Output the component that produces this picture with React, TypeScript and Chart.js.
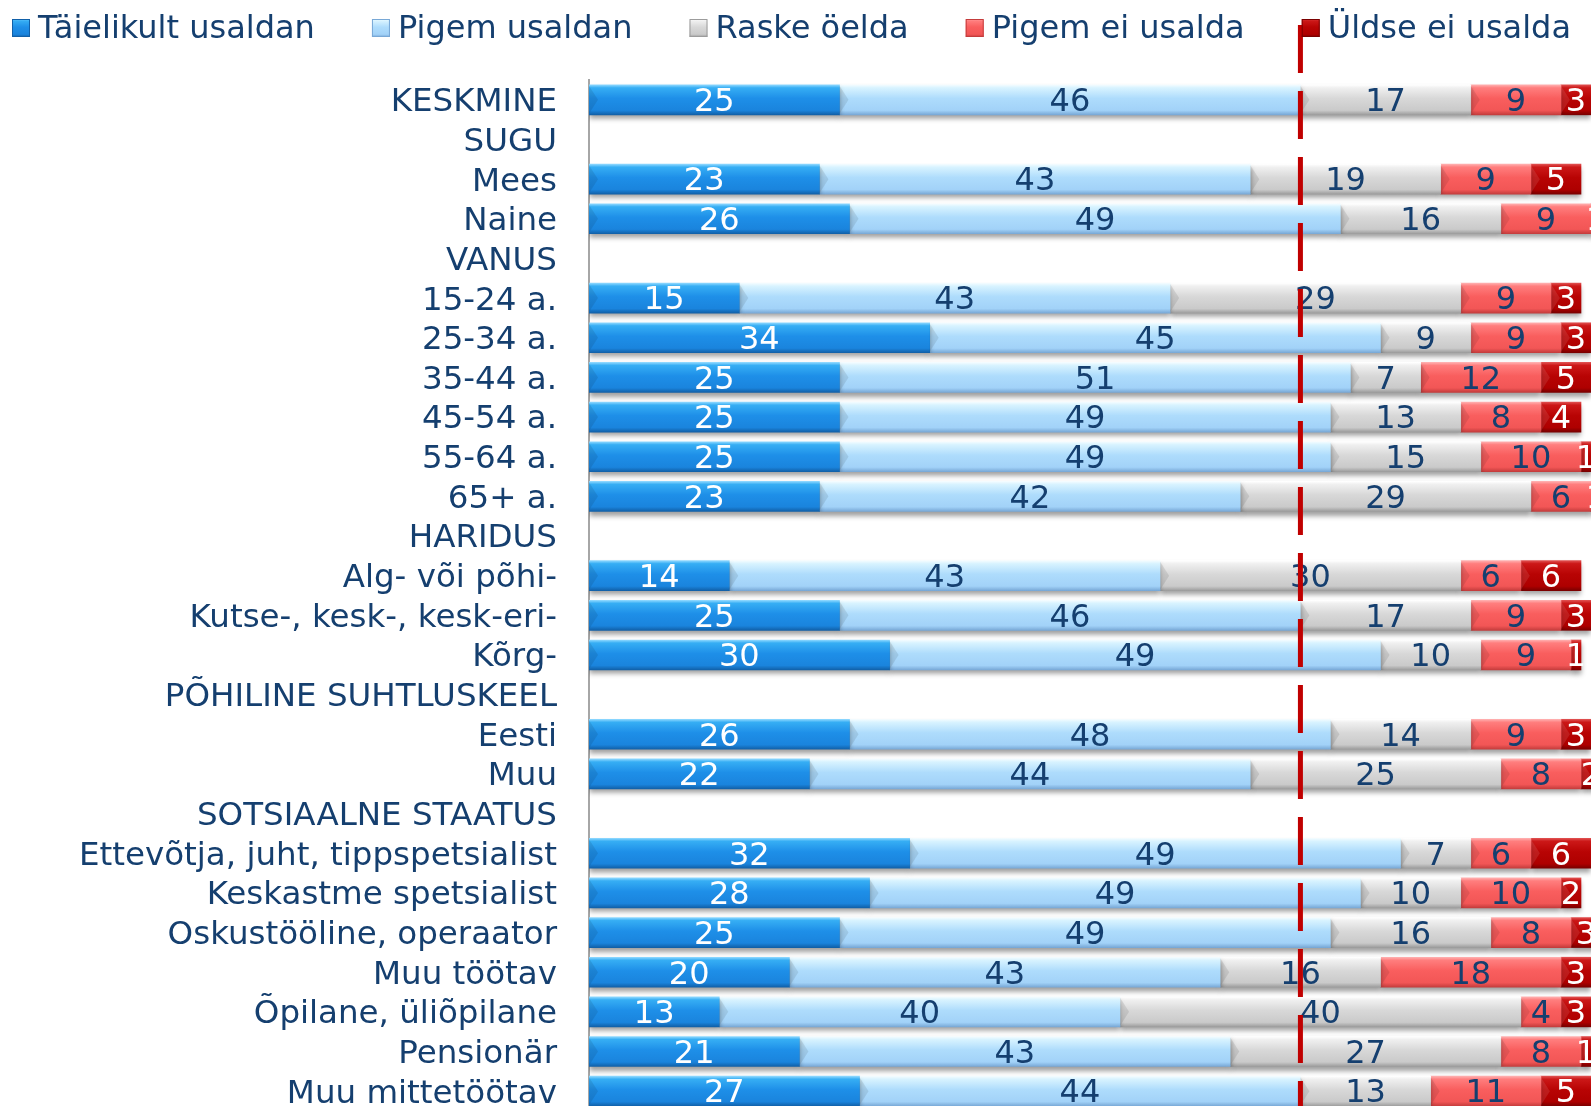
import React, { useEffect, useRef } from "react";
import { Chart, registerables } from "chart.js";

Chart.register(...registerables);

// ---------- data ----------
const categories = [
  "KESKMINE",
  "SUGU",
  "Mees",
  "Naine",
  "VANUS",
  "15-24 a.",
  "25-34 a.",
  "35-44 a.",
  "45-54 a.",
  "55-64 a.",
  "65+ a.",
  "HARIDUS",
  "Alg- või põhi-",
  "Kutse-, kesk-, kesk-eri-",
  "Kõrg-",
  "PÕHILINE SUHTLUSKEEL",
  "Eesti",
  "Muu",
  "SOTSIAALNE STAATUS",
  "Ettevõtja, juht, tippspetsialist",
  "Keskastme spetsialist",
  "Oskustööline, operaator",
  "Muu töötav",
  "Õpilane, üliõpilane",
  "Pensionär",
  "Muu mittetöötav",
];

const taielikultUsaldan = [25, null, 23, 26, null, 15, 34, 25, 25, 25, 23, null, 14, 25, 30, null, 26, 22, null, 32, 28, 25, 20, 13, 21, 27];
const pigemUsaldan = [46, null, 43, 49, null, 43, 45, 51, 49, 49, 42, null, 43, 46, 49, null, 48, 44, null, 49, 49, 49, 43, 40, 43, 44];
const raskeOelda = [17, null, 19, 16, null, 29, 9, 7, 13, 15, 29, null, 30, 17, 10, null, 14, 25, null, 7, 10, 16, 16, 40, 27, 13];
const pigemEiUsalda = [9, null, 9, 9, null, 9, 9, 12, 8, 10, 6, null, 6, 9, 9, null, 9, 8, null, 6, 10, 8, 18, 4, 8, 11];
const uldseEiUsalda = [3, null, 5, 1, null, 3, 3, 5, 4, 1, 1, null, 6, 3, 1, null, 3, 2, null, 6, 2, 3, 3, 3, 1, 5];

const seriesLabels = ["Täielikult usaldan", "Pigem usaldan", "Raske öelda", "Pigem ei usalda", "Üldse ei usalda"];
const seriesValues = [taielikultUsaldan, pigemUsaldan, raskeOelda, pigemEiUsalda, uldseEiUsalda];

// reference line: share of trust in the average row
const referenceValue = (taielikultUsaldan[0] as number) + (pigemUsaldan[0] as number);

// ---------- styles ----------
const FONT = "DejaVu Sans";
const TEXT = "#153F6F";
const BAR_H = 30;
const palettes = [
  ["#8ED8FF", "#36AEF4", "#1E8FE8", "#1A84DD", "#1160A8"],
  ["#F4FCFF", "#D8F3FF", "#AEDCFC", "#A2D2F8", "#78A8D6"],
  ["#FFFFFF", "#F0F0F0", "#D8D8D8", "#CACACA", "#9C9C9C"],
  ["#FFB0B0", "#FF7E7E", "#F95E5E", "#F25656", "#C43C3C"],
  ["#E05050", "#CC1818", "#B80404", "#AE0000", "#7A0000"],
];
const labelColors = ["#FFFFFF", TEXT, TEXT, TEXT, "#FFFFFF"];

function fillGradient(c: CanvasRenderingContext2D, top: number, h: number, pal: string[]) {
  const g = c.createLinearGradient(0, top, 0, top + h);
  g.addColorStop(0, pal[0]);
  g.addColorStop(0.1, pal[1]);
  g.addColorStop(0.45, pal[2]);
  g.addColorStop(0.85, pal[3]);
  g.addColorStop(1, pal[4]);
  return g;
}

const makeBg = (i: number) => (ctx: any) => {
  const chart = ctx.chart;
  const y = chart.scales && chart.scales.y;
  if (!y || ctx.dataIndex === undefined) return palettes[i][2];
  const yc = y.getPixelForValue(ctx.dataIndex);
  if (!Number.isFinite(yc)) return palettes[i][2];
  return fillGradient(chart.ctx, yc - BAR_H / 2, BAR_H, palettes[i]);
};

const decorPlugin = {
  id: "decor",
  beforeDatasetsDraw(chart: any) {
    const c = chart.ctx;
    c.save();
    c.shadowColor = "rgba(0,0,0,0.38)";
    c.shadowBlur = 5;
    c.shadowOffsetY = 4;
  },
  afterDatasetsDraw(chart: any) {
    const c = chart.ctx;
    c.restore();
    // bevel wedge at the left edge of each segment
    c.save();
    chart.data.datasets.forEach((ds: any, di: number) => {
      const meta = chart.getDatasetMeta(di);
      meta.data.forEach((el: any, i: number) => {
        const v = ds.data[i];
        if (v === null || v === undefined) return;
        const L = Math.min(el.x, el.base);
        const R = Math.max(el.x, el.base);
        const T = el.y - el.height / 2;
        const B = el.y + el.height / 2;
        const w = Math.min(9, (R - L) / 2);
        c.fillStyle = di === 4 ? "rgba(255,255,255,0.10)" : "rgba(0,0,0,0.09)";
        c.beginPath();
        c.moveTo(L, T + 1);
        c.lineTo(L + w, el.y);
        c.lineTo(L, B - 1);
        c.closePath();
        c.fill();
      });
    });
    c.restore();
    // data labels
    c.save();
    c.font = `32px "${FONT}"`;
    c.textAlign = "center";
    c.textBaseline = "middle";
    chart.data.datasets.forEach((ds: any, di: number) => {
      const meta = chart.getDatasetMeta(di);
      meta.data.forEach((el: any, i: number) => {
        const v = ds.data[i];
        if (v === null || v === undefined) return;
        const cx = (el.x + el.base) / 2;
        c.fillStyle = labelColors[di];
        c.fillText(String(v), cx, el.y + 3);
      });
    });
    c.restore();
  },
  afterDraw(chart: any) {
    const c = chart.ctx;
    const xs = chart.scales.x;
    const area = chart.chartArea;
    // dashed reference line
    const lx = xs.getPixelForValue(referenceValue);
    c.save();
    c.strokeStyle = "#C00000";
    c.lineWidth = 5;
    c.setLineDash([48, 18]);
    c.beginPath();
    c.moveTo(lx, 25);
    c.lineTo(lx, area.bottom + 20);
    c.stroke();
    c.restore();

    // legend
    c.save();
    c.font = `32px "${FONT}"`;
    c.textBaseline = "middle";
    c.textAlign = "left";
    const box = 18;
    const boxGap = 8;
    const startX = 12;
    const endX = 1571;
    const widths = seriesLabels.map((t) => c.measureText(t).width);
    const total = widths.reduce((a, w) => a + w + box + boxGap, 0);
    const gap = (endX - startX - total) / (seriesLabels.length - 1);
    let x = startX;
    const cy = 28;
    seriesLabels.forEach((t, i) => {
      c.fillStyle = fillGradient(c, cy - box / 2, box, palettes[i]);
      c.fillRect(x, cy - box / 2, box, box);
      c.strokeStyle = palettes[i][4];
      c.lineWidth = 1;
      c.strokeRect(x + 0.5, cy - box / 2 + 0.5, box - 1, box - 1);
      c.fillStyle = TEXT;
      c.fillText(t, x + box + boxGap, cy + 2);
      x += box + boxGap + widths[i] + gap;
    });
    c.restore();
  },
};

export default function App() {
  const ref = useRef<HTMLCanvasElement>(null);
  useEffect(() => {
    const canvas = ref.current!;
    Chart.defaults.font.family = FONT;
    const chart = new Chart(canvas, {
      type: "bar",
      data: {
        labels: categories,
        datasets: seriesValues.map((vals, i) => ({
          label: seriesLabels[i],
          data: vals,
          backgroundColor: makeBg(i),
          borderWidth: 0,
          barThickness: BAR_H,
        })),
      },
      options: {
        indexAxis: "y",
        responsive: false,
        animation: false,
        devicePixelRatio: 1,
        layout: { padding: { top: 80, bottom: 1, left: 0, right: 0 } },
        plugins: {
          legend: { display: false },
          tooltip: { enabled: false },
          title: { display: false },
        },
        scales: {
          x: {
            stacked: true,
            min: 0,
            max: 100,
            display: false,
          },
          y: {
            stacked: true,
            grid: { display: false, drawTicks: true, tickLength: 32 },
            border: { display: true, color: "#A6A6A6", width: 2 },
            ticks: {
              autoSkip: false,
              padding: 0,
              labelOffset: 3,
              color: TEXT,
              font: { size: 32.5, family: FONT },
            },
            afterFit: (scale: any) => {
              scale.width = 589;
              scale.paddingTop = 0;
              scale.paddingBottom = 0;
            },
          },
        },
      } as any,
      plugins: [decorPlugin],
    });
    return () => chart.destroy();
  }, []);
  return (
    <div
      style={{
        position: "fixed",
        left: 0,
        top: 0,
        width: 1591,
        height: 1106,
        overflow: "hidden",
        background: "#ffffff",
      }}
    >
      <canvas ref={ref} width={1591} height={1112} style={{ display: "block", width: 1591, height: 1112 }} />
    </div>
  );
}
